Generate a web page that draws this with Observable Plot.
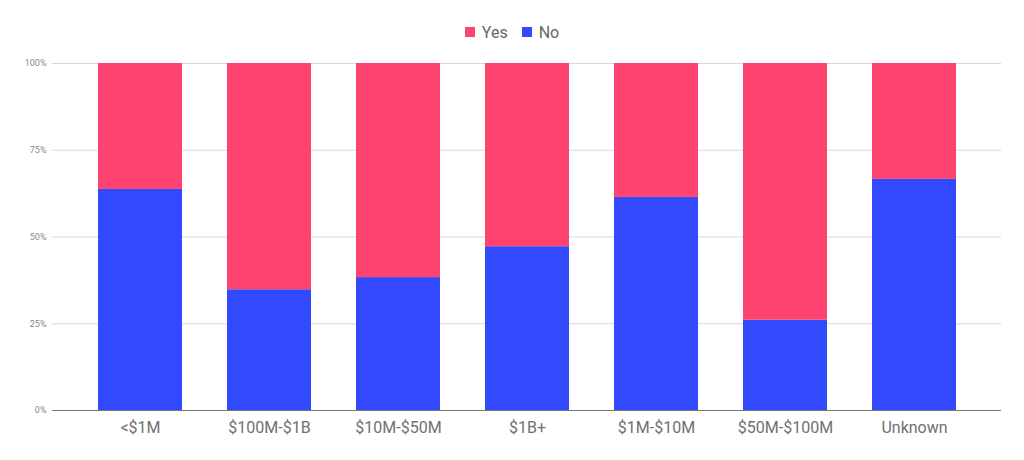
<!DOCTYPE html>
<html>
<head>
<meta charset="utf-8">
<script src="https://cdn.jsdelivr.net/npm/d3@7"></script>
<script src="https://cdn.jsdelivr.net/npm/@observablehq/plot@0.6"></script>
<style>
  html, body { margin: 0; padding: 0; background: #fff; }
  body { width: 1024px; height: 460px; overflow: hidden; font-family: Roboto, "Noto Sans", sans-serif; }
  #legend { height: 50px; display: flex; justify-content: center; align-items: center; padding-top: 14px; box-sizing: border-box; gap: 14px; font-size: 16px; color: #666; }
  .item { display: flex; align-items: center; gap: 7px; }
  .sw { width: 10px; height: 10px; display: inline-block; }
</style>
</head>
<body>
<div id="legend"></div>
<div id="chart"></div>
<script>
const categories = ["<$1M", "$100M-$1B", "$10M-$50M", "$1B+", "$1M-$10M", "$50M-$100M", "Unknown"];
const seriesNames = ["Yes", "No"];
const yesValues = [36.3, 65.2, 61.7, 52.8, 38.6, 74.0, 33.4];
const noValues  = [63.7, 34.8, 38.3, 47.2, 61.4, 26.0, 66.6];
const yTicks = [0, 25, 50, 75, 100];
const colors = ["#fe4370", "#3349fe"];

const data = [];
categories.forEach((c, i) => {
  data.push({cat: c, series: "No", value: noValues[i]});
  data.push({cat: c, series: "Yes", value: yesValues[i]});
});

const legend = document.getElementById("legend");
seriesNames.forEach((s, i) => {
  const it = document.createElement("span");
  it.className = "item";
  it.innerHTML = `<span class="sw" style="background:${colors[i]}"></span><span>${s}</span>`;
  legend.appendChild(it);
});

const chart = Plot.plot({
  width: 1024,
  height: 410,
  marginTop: 13,
  marginBottom: 50,
  marginLeft: 52,
  marginRight: 23,
  style: {fontFamily: "Roboto, sans-serif", background: "#fff"},
  x: {domain: categories, padding: 0.35, label: null},
  y: {domain: [0, 100], label: null},
  color: {domain: seriesNames, range: colors},
  marks: [
    Plot.gridY(yTicks, {stroke: "#d9d9d9", strokeOpacity: 1}),
    Plot.barY(data, Plot.stackY({x: "cat", y: "value", fill: "series", order: ["No", "Yes"]})),
    Plot.ruleY([0], {stroke: "#777", strokeWidth: 1.2}),
    Plot.axisY(yTicks, {tickSize: 0, tickPadding: 6, tickFormat: d => d + "%", fontSize: 9, fill: "#888", label: null}),
    Plot.axisX({tickSize: 0, tickPadding: 11, fontSize: 16, fill: "#707070", label: null})
  ]
});
document.getElementById("chart").appendChild(chart);
</script>
</body>
</html>
